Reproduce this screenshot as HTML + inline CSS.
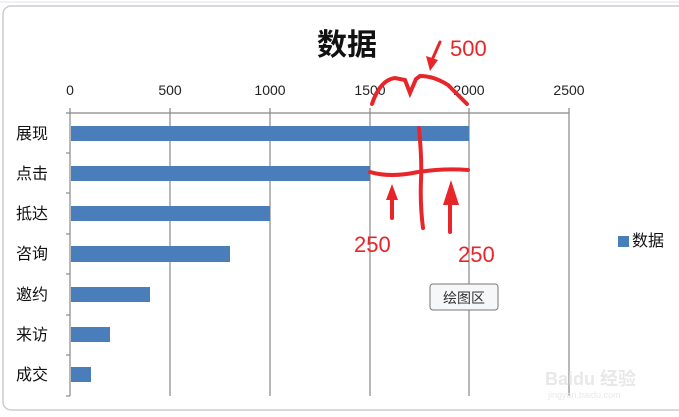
<!DOCTYPE html><html><head><meta charset="utf-8"><style>body{margin:0;background:#fff}svg{display:block}</style></head><body>
<svg width="679" height="417" xmlns="http://www.w3.org/2000/svg" font-family="Liberation Sans, Noto Sans CJK SC, sans-serif">
<rect x="0" y="0" width="679" height="417" fill="#fff"/>
<rect x="3" y="6" width="690" height="404" rx="8" fill="#fff" stroke="#c8ccd0" stroke-width="1.5"/>
<line x1="0" y1="2" x2="679" y2="2" stroke="#dfe3e6"/>
<text x="347" y="55" font-size="30" font-weight="bold" text-anchor="middle" fill="#111">数据</text>
<g font-size="14" fill="#222" text-anchor="middle">
<text x="70" y="95">0</text><text x="170" y="95">500</text><text x="270" y="95">1000</text><text x="370" y="95">1500</text><text x="469" y="95">2000</text><text x="569" y="95">2500</text></g>
<g stroke="#888" stroke-width="1.2">
<line x1="66" y1="113" x2="569" y2="113"/>
<line x1="70" y1="108" x2="70" y2="396"/><line x1="170" y1="108" x2="170" y2="396"/><line x1="270" y1="108" x2="270" y2="396"/><line x1="370" y1="108" x2="370" y2="396"/><line x1="469" y1="108" x2="469" y2="396"/><line x1="569" y1="108" x2="569" y2="396"/>
<line x1="66" y1="153" x2="70" y2="153"/><line x1="66" y1="193" x2="70" y2="193"/><line x1="66" y1="234" x2="70" y2="234"/><line x1="66" y1="274" x2="70" y2="274"/><line x1="66" y1="315" x2="70" y2="315"/><line x1="66" y1="355" x2="70" y2="355"/><line x1="66" y1="396" x2="70" y2="396"/>
</g>
<g fill="#4a7ebb">
<rect x="71" y="126" width="398" height="15"/><rect x="71" y="166" width="299" height="15"/><rect x="71" y="206" width="199" height="15"/><rect x="71" y="246" width="159" height="16"/><rect x="71" y="287" width="79" height="15"/><rect x="71" y="327" width="39" height="15"/><rect x="71" y="367" width="20" height="15"/>
<rect x="618" y="236" width="11" height="11"/></g>
<g font-size="16" fill="#111"><text x="16" y="139">展现</text><text x="16" y="179">点击</text><text x="16" y="219">抵达</text><text x="16" y="259">咨询</text><text x="16" y="300">邀约</text><text x="16" y="340">来访</text><text x="16" y="380">成交</text>
<text x="632" y="246">数据</text></g>
<g stroke="#e8262a" stroke-width="4" fill="none" stroke-linecap="round">
<path d="M372 104 Q380 80 395 78 L405 80 L410 93 L416 79 L420 76 Q434 76 448 85 L467 104"/>
<path d="M370 172 Q390 178 418 172 Q445 168 468 170"/>
<path d="M419 128 Q422 160 421 180 Q420 205 423 228"/>
<path d="M392 218 L392 195"/><path d="M450 232 L450 195"/>
<path d="M440 42 L432 60" stroke-width="3"/>
</g>
<g fill="#e8262a"><path d="M386 200 L392 184 L398 200Z"/><path d="M443 205 L451 180 L459 205Z"/><path d="M426 56 L430 71 L438 60Z"/></g>
<g font-size="22" fill="#e8262a"><text x="450" y="56">500</text><text x="354" y="252">250</text><text x="458" y="262">250</text></g>
<rect x="430" y="284" width="68" height="26" rx="3" fill="#f6f7f9" stroke="#777"/>
<text x="464" y="303" font-size="14" text-anchor="middle" fill="#333">绘图区</text>
<text x="545" y="385" font-size="18" font-weight="bold" fill="#e8e8e8">Baidu 经验</text>
<text x="548" y="398" font-size="9" fill="#e8e8e8">jingyan.baidu.com</text>
</svg></body></html>
